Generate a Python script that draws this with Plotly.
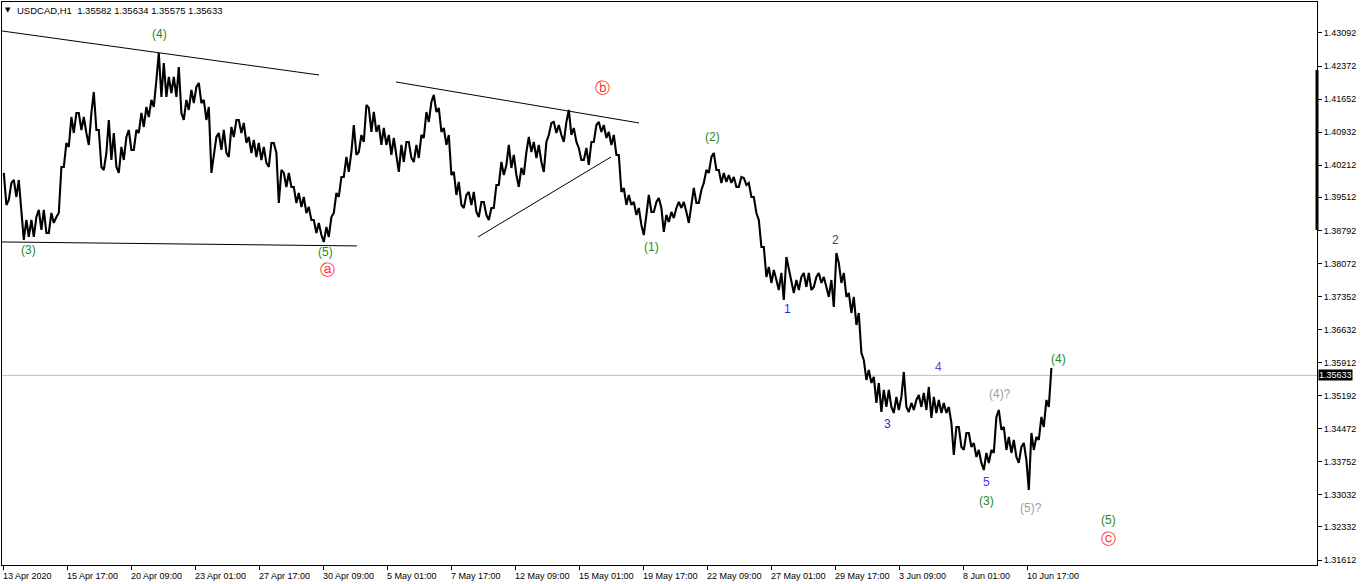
import plotly.graph_objects as go

# ---------------- data ----------------
# USDCAD H1, aggregated into 5-bar groups: high / low of each group
bars_per_group = 5
hi = [1.40043, 1.39825, 1.39890, 1.39890, 1.39019, 1.39019, 1.39084, 1.39237, 1.39237, 1.39171,
      1.39084, 1.40173, 1.40696, 1.41262, 1.41350, 1.41350, 1.41262, 1.41350, 1.41807, 1.40979,
      1.40478, 1.41197, 1.40914, 1.40609, 1.40827, 1.40979, 1.40979, 1.41350, 1.41480, 1.41633,
      1.42068, 1.42657, 1.42439, 1.42134, 1.42134, 1.42352, 1.41633, 1.41851, 1.41916, 1.42003,
      1.41633, 1.41480, 1.40827, 1.40914, 1.40979, 1.41045, 1.41197, 1.41197, 1.41132, 1.40827,
      1.40762, 1.40696, 1.40609, 1.40696, 1.40696, 1.40108, 1.40043, 1.40043, 1.39738, 1.39607,
      1.39520, 1.39302, 1.39019, 1.38954, 1.38867, 1.39084, 1.39607, 1.39956, 1.40391, 1.40500,
      1.41088, 1.40870, 1.41524, 1.41459, 1.41371, 1.41088, 1.41023, 1.40870, 1.40805, 1.40653,
      1.40718, 1.40718, 1.40653, 1.40870, 1.41371, 1.41589, 1.41742, 1.41459, 1.41023, 1.40870,
      1.40065, 1.39847, 1.39564, 1.39629, 1.39629, 1.39411, 1.39411, 1.39280, 1.39781, 1.40282,
      1.40217, 1.40653, 1.40435, 1.40152, 1.40500, 1.40827, 1.40718, 1.40653, 1.40718, 1.41132,
      1.41154, 1.41088, 1.41154, 1.41415, 1.41023, 1.40587, 1.40587, 1.40718, 1.41088, 1.41154,
      1.41088, 1.40936, 1.40870, 1.40435, 1.39716, 1.39564, 1.39411, 1.39280, 1.39128, 1.39564,
      1.39411, 1.39498, 1.39128, 1.39193, 1.39280, 1.39411, 1.39411, 1.39346, 1.39716, 1.39672,
      1.40108, 1.40391, 1.40478, 1.40108, 1.40043, 1.39999, 1.39956, 1.39956, 1.39934, 1.39825,
      1.39520, 1.39019, 1.38431, 1.37995, 1.37930, 1.37865, 1.38213, 1.37930, 1.37712, 1.37777,
      1.37865, 1.37865, 1.37777, 1.37865, 1.37777, 1.37712, 1.38300, 1.38082, 1.37865, 1.37429,
      1.37342, 1.36993, 1.35970, 1.35752, 1.35599, 1.35468, 1.35316, 1.35316, 1.35164, 1.35164,
      1.35708, 1.35033, 1.35098, 1.35207, 1.35251, 1.35381, 1.35164, 1.35098, 1.35033, 1.34946,
      1.34510, 1.34510, 1.34379, 1.34379, 1.34162, 1.34009, 1.33944, 1.34009, 1.34728, 1.34880,
      1.34510, 1.34292, 1.34227, 1.34074, 1.34162, 1.34379, 1.34292, 1.34728, 1.35098, 1.35795]
lo = [1.39346, 1.39455, 1.39520, 1.39237, 1.38583, 1.38649, 1.38649, 1.38801, 1.38736, 1.38736,
      1.38954, 1.39171, 1.40173, 1.40609, 1.40914, 1.40979, 1.40914, 1.40653, 1.40979, 1.40173,
      1.40108, 1.40326, 1.40173, 1.40043, 1.40326, 1.40544, 1.40544, 1.40914, 1.41045, 1.41262,
      1.41480, 1.41698, 1.41698, 1.41785, 1.41698, 1.41350, 1.41197, 1.41415, 1.41567, 1.41567,
      1.41197, 1.40043, 1.40478, 1.40544, 1.40478, 1.40391, 1.40827, 1.40914, 1.40696, 1.40478,
      1.40391, 1.40326, 1.40260, 1.40173, 1.40478, 1.39389, 1.39738, 1.39738, 1.39389, 1.39302,
      1.39171, 1.39019, 1.38736, 1.38691, 1.38540, 1.38649, 1.39171, 1.39520, 1.39956, 1.40065,
      1.40435, 1.40500, 1.40718, 1.40936, 1.40936, 1.40653, 1.40653, 1.40435, 1.40369, 1.40065,
      1.40282, 1.40369, 1.40282, 1.40369, 1.40805, 1.41154, 1.41371, 1.40936, 1.40653, 1.39999,
      1.39564, 1.39346, 1.39280, 1.39346, 1.39193, 1.39084, 1.39128, 1.39019, 1.39280, 1.39781,
      1.39999, 1.40152, 1.39999, 1.39738, 1.39999, 1.40500, 1.40369, 1.40282, 1.40065, 1.40870,
      1.40914, 1.40870, 1.40718, 1.40870, 1.40718, 1.40326, 1.40326, 1.40217, 1.40718, 1.40936,
      1.40805, 1.40653, 1.40435, 1.39629, 1.39346, 1.39346, 1.39128, 1.38910, 1.38691, 1.39193,
      1.39193, 1.39280, 1.38758, 1.38975, 1.39062, 1.39280, 1.39193, 1.38954, 1.39389, 1.39389,
      1.39825, 1.40043, 1.40108, 1.39825, 1.39847, 1.39825, 1.39738, 1.39738, 1.39781, 1.39520,
      1.39171, 1.38431, 1.37777, 1.37647, 1.37712, 1.37494, 1.37276, 1.37647, 1.37429, 1.37494,
      1.37560, 1.37494, 1.37560, 1.37647, 1.37560, 1.37342, 1.37124, 1.37647, 1.37342, 1.36993,
      1.36732, 1.36122, 1.35534, 1.35468, 1.35033, 1.34837, 1.34946, 1.34946, 1.34815, 1.34880,
      1.34946, 1.34837, 1.34880, 1.34946, 1.34880, 1.34706, 1.34815, 1.34815, 1.34815, 1.34597,
      1.33900, 1.34074, 1.34009, 1.34074, 1.33857, 1.33726, 1.33573, 1.33726, 1.33944, 1.34445,
      1.34009, 1.33944, 1.33857, 1.33726, 1.33791, 1.33138, 1.34009, 1.34227, 1.34510, 1.34946]

last_price = 1.35633
title_text = "USDCAD,H1\u00a0\u00a01.35582 1.35634 1.35575 1.35633"

y_ticks = [1.43092, 1.42372, 1.41652, 1.40932, 1.40212, 1.39512, 1.38792, 1.38072, 1.37352,
           1.36632, 1.35912, 1.35192, 1.34472, 1.33752, 1.33032, 1.32332, 1.31612]
x_tick_labels = ["13 Apr 2020", "15 Apr 17:00", "20 Apr 09:00", "23 Apr 01:00", "27 Apr 17:00",
                 "30 Apr 09:00", "5 May 01:00", "7 May 17:00", "12 May 09:00", "15 May 01:00",
                 "19 May 17:00", "22 May 09:00", "27 May 01:00", "29 May 17:00", "3 Jun 09:00",
                 "8 Jun 01:00", "10 Jun 17:00"]
bars_between_labels = 64

# wave labels: (text, bar index, price, colour)
GREEN = "#1f8a1f"
GRAY = "#a89898"
RED = "#ff2a2a"
wave_labels = [
    ("(3)", 25, 1.38366, GREEN), ("(4)", 156, 1.43070, GREEN), ("(5)", 322, 1.38322, GREEN),
    ("\u24d0", 324, 1.37930, RED), ("\u24d1", 599, 1.41894, RED), ("(1)", 648, 1.38431, GREEN),
    ("(2)", 709, 1.40827, GREEN), ("1", 784, 1.37080, "#2525ff"), ("2", 832, 1.38583, "#2440b0"),
    ("3", 884, 1.34575, "#2b2bdd"), ("4", 935, 1.35817, "#7a35e6"), ("(4)?", 997, 1.35229, GRAY),
    ("5", 983, 1.33312, "#5a2cf0"), ("(3)", 983, 1.32898, GREEN), ("(5)?", 1028, 1.32746, GRAY),
    ("(4)", 1055, 1.35991, GREEN), ("(5)", 1105, 1.32484, GREEN), ("\u24d2", 1105, 1.32071, RED),
]
# hand-drawn trend lines: (bar0, price0, bar1, price1)
trend_lines = [(-1, 1.43136, 316, 1.42177), (-1, 1.38540, 354, 1.38453),
               (393, 1.42025, 636, 1.41132), (475, 1.38649, 608, 1.40391)]

# ---------------- figure ----------------
# path through each group's extremes; within a group it ends at the extreme
# closer to where the next group sits
xz, yz = [], []
n = len(hi)
for k in range(n):
    base = k * bars_per_group
    mid_now = hi[k] + lo[k]
    mid_next = (hi[k + 1] + lo[k + 1]) if k + 1 < n else mid_now + 1
    first, second = (lo[k], hi[k]) if mid_next > mid_now else (hi[k], lo[k])
    xz += [base + 0.8, base + 3.4]
    yz += [first, second]

fig = go.Figure()
fig.add_trace(go.Scatter(x=xz, y=yz, mode="lines", line=dict(color="black", width=2.1),
                         hoverinfo="skip", showlegend=False))

FONT = "Liberation Sans, Arial, sans-serif"
tick_pos = [i * bars_between_labels for i in range(len(x_tick_labels))]

fig.update_layout(
    width=1362, height=584,
    margin=dict(l=2, r=45, t=2, b=19),
    paper_bgcolor="white", plot_bgcolor="white",
    showlegend=False,
    font=dict(family=FONT, size=9, color="black"),
    xaxis=dict(range=[-1, 1314], showgrid=False, zeroline=False,
               showline=True, mirror=True, linecolor="black", linewidth=1,
               tickvals=tick_pos, ticktext=[""] * len(tick_pos),
               ticks="outside", ticklen=4, tickcolor="black", tickwidth=1),
    yaxis=dict(range=[1.31503, 1.43767], side="right", showgrid=False, zeroline=False,
               showline=True, mirror=True, linecolor="black", linewidth=1,
               tickmode="array", tickvals=y_ticks, ticktext=[f"{v:.5f}" for v in y_ticks],
               ticks="outside", ticklen=4, tickcolor="black", tickwidth=1,
               tickfont=dict(family=FONT, size=9, color="black")),
)

shapes = []
for (x0, y0, x1, y1) in trend_lines:
    shapes.append(dict(type="line", xref="x", yref="y", x0=x0, y0=y0, x1=x1, y1=y1,
                       line=dict(color="black", width=1)))
shapes.append(dict(type="line", xref="paper", yref="y", x0=0, x1=1, y0=last_price, y1=last_price,
                   line=dict(color="#c0c0c0", width=1), layer="below"))
shapes.append(dict(type="line", xref="paper", yref="y", x0=1, x1=1, y0=1.42286, y1=1.38801,
                   line=dict(color="black", width=3)))
fig.update_layout(shapes=shapes)

ann = []
for lab, pos in zip(x_tick_labels, tick_pos):
    ann.append(dict(x=pos, y=0, xref="x", yref="paper", text=lab, showarrow=False,
                    xanchor="left", yanchor="middle", yshift=-11, xshift=-2,
                    font=dict(family=FONT, size=9, color="black")))
for (t, bx, py, col) in wave_labels:
    circled = t in ("\u24d0", "\u24d1", "\u24d2")
    ann.append(dict(x=bx, y=py, xref="x", yref="y", text=t, showarrow=False,
                    xanchor="center", yanchor="middle",
                    font=dict(family="DejaVu Sans" if circled else FONT,
                              size=15 if circled else 12, color=col)))
ann.append(dict(x=1, y=last_price, xref="paper", yref="y", text="1.35633", showarrow=False,
                xanchor="left", yanchor="middle", xshift=1, bgcolor="black", borderpad=0,
                font=dict(family=FONT, size=9, color="white")))
ann.append(dict(x=0, y=1, xref="paper", yref="paper", text="\u25bc", showarrow=False,
                xanchor="left", yanchor="middle", xshift=1, yshift=-8,
                font=dict(family="DejaVu Sans", size=7, color="black")))
ann.append(dict(x=0, y=1, xref="paper", yref="paper", text=title_text, showarrow=False,
                xanchor="left", yanchor="middle", xshift=13, yshift=-8,
                font=dict(family=FONT, size=9.5, color="black")))
fig.update_layout(annotations=ann)

fig.write_html("out.html", config={"displayModeBar": False},
               post_script="document.body.style.margin='0px';")
